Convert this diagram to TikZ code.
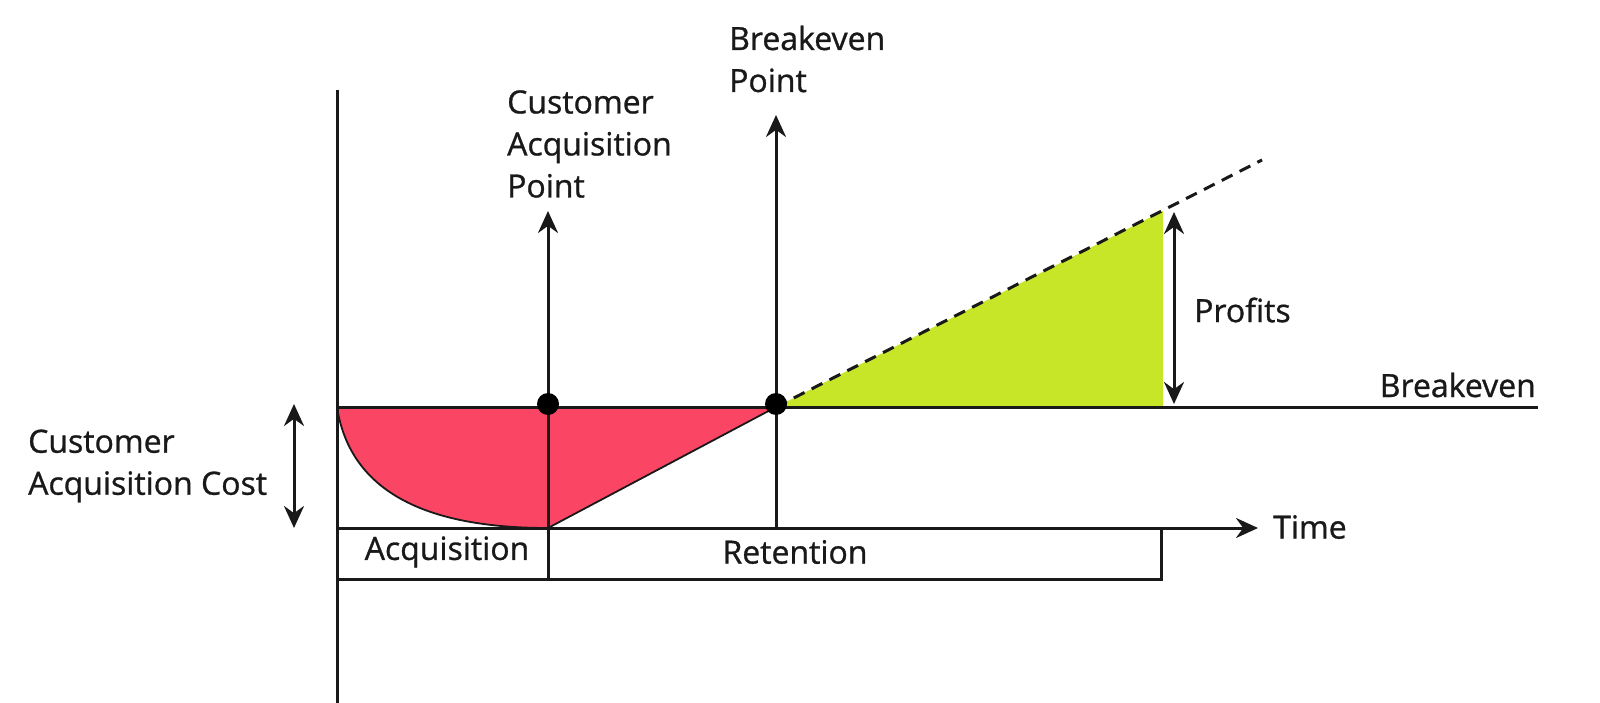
\documentclass[tikz,border=0pt]{standalone}
\usepackage{fontspec}
\setmainfont{Open Sans}
\newfontfamily\lblfont[FakeBold=0.9]{Open Sans}
\usetikzlibrary{arrows.meta}
\definecolor{lossred}{RGB}{250,70,100}
\definecolor{profitgreen}{RGB}{200,230,40}
\definecolor{ink}{RGB}{25,25,25}
\tikzset{
  ax/.style={draw=ink, line width=3pt},
  arr/.style={ax, -{Stealth[length=22pt,width=20pt]}},
  darr/.style={ax, {Stealth[length=22pt,width=20pt]}-{Stealth[length=22pt,width=20pt]}},
  lbl/.style={font=\lblfont\fontsize{32}{42}\selectfont, text=ink, inner sep=0pt, align=left},
  dot/.style={circle, fill=black, minimum size=22pt, inner sep=0pt},
}
\begin{document}
\begin{tikzpicture}[x=1pt,y=-1pt]
\useasboundingbox[fill=white] (0,0) rectangle (1600,703);
% key coordinates
\coordinate (ytop) at (337,90);
\coordinate (ybot) at (337,703);
\coordinate (o) at (337,528);
\coordinate (b0) at (337,407);
\coordinate (bend) at (1538,407);
\coordinate (tend) at (1258,528);
\coordinate (ca) at (548,528);
\coordinate (catop) at (548,211);
\coordinate (be) at (776,528);
\coordinate (betop) at (776,115);
\coordinate (gtop) at (1163,211);
\coordinate (gbot) at (1163,407);
\coordinate (dashend) at (1262,160);
% fills
\fill[lossred] (b0) .. controls (352,505) and (450,528) .. (548,528) -- (776,407) -- cycle;
\draw[draw=ink, line width=1.8pt] (b0) .. controls (352,505) and (450,528) .. (548,528) -- (776,407);
\fill[profitgreen] (776,407) -- (gtop) -- (gbot) -- cycle;
% axes
\draw[ax] (ytop) -- (ybot);
\draw[ax] (b0) -- (bend);
\draw[arr] (o) -- (tend);
% phase boxes
\draw[ax] (o) -- (337,579) -- (1161,579) -- (1161,528);
\draw[ax] (548,528) -- (548,579);
% vertical markers
\draw[arr] (ca) -- (catop);
\draw[arr] (be) -- (betop);
\draw[ax, dash pattern=on 12pt off 8pt] (776,407) -- (dashend);
% dots
\node[dot] (dca) at (548,404) {};
\node[dot] (dbe) at (776,404) {};
% double arrows
\coordinate (pt) at (1174,212);
\coordinate (pb) at (1174,404);
\draw[darr] (pt) -- (pb);
\coordinate (ct) at (294,404);
\coordinate (cb) at (294,528);
\draw[darr] (ct) -- (cb);
% labels
\node[lbl, anchor=west] (lcac) at (28,466) {Customer\\Acquisition Cost};
\node[lbl, anchor=west] (lcap) at (507,144) {Customer\\Acquisition\\Point};
\node[lbl, anchor=west] (lbep) at (729,59) {Breakeven\\Point};
\node[lbl, anchor=west] (lprof) at (1194,310) {Profits};
\node[lbl, anchor=east] (lbe) at (1536,385) {Breakeven};
\node[lbl, anchor=west] (ltime) at (1273,527) {Time};
\node[lbl] (lacq) at (447,552) {Acquisition};
\node[lbl] (lret) at (795,552) {Retention};
\end{tikzpicture}
\end{document}
